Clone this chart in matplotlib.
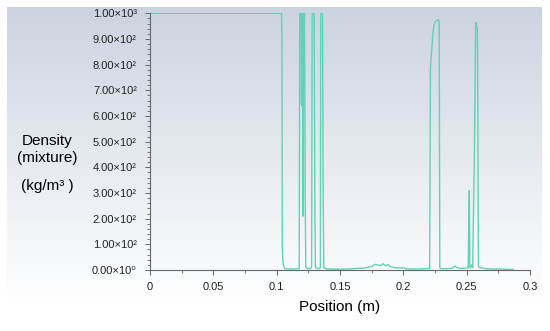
import matplotlib
matplotlib.use("Agg")
import matplotlib.pyplot as plt
import numpy as np
from matplotlib.ticker import MultipleLocator, FixedLocator, FixedFormatter

# ---- data ----
position = [0.0, 0.1038, 0.1042, 0.1044, 0.1048, 0.1055, 0.1065, 0.1100, 0.1150, 0.1178,
            0.1182, 0.1186, 0.1193, 0.1196, 0.1198, 0.1200, 0.1202, 0.1204, 0.1208, 0.1212,
            0.1220, 0.1225, 0.1230, 0.1245, 0.1270, 0.1276, 0.1280, 0.1296, 0.1301, 0.1306,
            0.1320, 0.1340, 0.1345, 0.1348, 0.1362, 0.1367, 0.1372, 0.1400, 0.1500, 0.1600,
            0.1700, 0.1750, 0.1780, 0.1800, 0.1820, 0.1840, 0.1860, 0.1880, 0.1900, 0.1950,
            0.2000, 0.2030, 0.2100, 0.2208, 0.2214, 0.2220, 0.2230, 0.2240, 0.2250, 0.2270,
            0.2278, 0.2283, 0.2288, 0.2300, 0.2380, 0.2410, 0.2420, 0.2450, 0.2512, 0.2517,
            0.2521, 0.2525, 0.2530, 0.2540, 0.2548, 0.2553, 0.2560, 0.2566, 0.2571, 0.2575,
            0.2580, 0.2585, 0.2589, 0.2593, 0.2600, 0.2620, 0.2650, 0.2700, 0.2800, 0.2866]
density = [1000, 1000, 900, 100, 40, 15, 5, 4, 4, 6,
           1000, 1000, 1000, 650, 790, 640, 790, 1000, 210, 1000,
           1000, 300, 10, 5, 6, 12, 1000, 1000, 300, 10,
           5, 6, 12, 1000, 1000, 300, 8, 4, 3, 5,
           8, 14, 22, 19, 17, 24, 17, 21, 12, 8,
           8, 4, 4, 6, 790, 830, 900, 950, 965, 975,
           975, 960, 8, 5, 6, 15, 10, 6, 8, 200,
           310, 10, 8, 20, 10, 200, 420, 700, 950, 965,
           945, 940, 500, 15, 10, 8, 5, 4, 3, 2]

x_ticks = [0, 0.05, 0.1, 0.15, 0.2, 0.25, 0.3]
x_tick_labels = ["0", "0.05", "0.1", "0.15", "0.2", "0.25", "0.3"]
y_ticks = [0, 100, 200, 300, 400, 500, 600, 700, 800, 900, 1000]
y_tick_labels = ["0.00×10⁰"] + ["%.2f×10²" % (v / 100) for v in y_ticks[1:-1]] + ["1.00×10³"]

fam = ["Liberation Sans", "DejaVu Sans"]
plt.rcParams["font.family"] = fam

W, H = 550, 331
fig = plt.figure(figsize=(W / 100, H / 100), dpi=100)

# background gradient panel
bg = fig.add_axes([7 / W, (H - 320) / H, 535 / W, 313 / H])
bg.set_axis_off()
top = np.array([0.80, 0.83, 0.88])
bot = np.array([1.0, 1.0, 1.0])
t = np.linspace(0, 1, 256)[:, None]
t = np.clip(t / 0.95, 0, 1)
grad = top[None, :] * (1 - t) + bot[None, :] * t
grad = np.repeat(grad[:, None, :], 2, axis=1)
bg.imshow(grad, aspect="auto", extent=[0, 1, 0, 1], origin="upper")

ax = fig.add_axes([150 / W, (H - 270) / H, 380 / W, 256.7 / H])
ax.patch.set_alpha(0)
ax.plot(position, density, color="#5fd3b5", lw=1.0, solid_joinstyle="round")

ax.set_xlim(0, 0.3)
ax.set_ylim(0, 1000)
for s in ["top", "right"]:
    ax.spines[s].set_visible(False)
for s in ["left", "bottom"]:
    ax.spines[s].set_color("#666666")
    ax.spines[s].set_linewidth(0.8)

ax.xaxis.set_major_locator(FixedLocator(x_ticks))
ax.xaxis.set_major_formatter(FixedFormatter(x_tick_labels))
ax.xaxis.set_minor_locator(MultipleLocator(0.025))
ax.yaxis.set_major_locator(FixedLocator(y_ticks))
ax.yaxis.set_major_formatter(FixedFormatter(y_tick_labels))
ax.yaxis.set_minor_locator(MultipleLocator(20))

ax.tick_params(axis="both", which="major", color="#666666", length=3.5, width=0.7,
               labelsize=8, labelcolor="#222222", direction="out")
ax.tick_params(axis="both", which="minor", color="#666666", length=2, width=0.6, direction="out")
ax.tick_params(axis="y", which="major", pad=6)
ax.tick_params(axis="x", which="major", pad=5)

ax.set_xlabel("Position (m)", fontsize=11, labelpad=6)

fig.text(47 / W, 1 - 141 / H, "Density", ha="center", va="center", fontsize=11)
fig.text(47 / W, 1 - 158 / H, "(mixture)", ha="center", va="center", fontsize=11)
fig.text(47 / W, 1 - 186 / H, "(kg/m³ )", ha="center", va="center", fontsize=11)

fig.savefig("out.png", dpi=100, facecolor="white")
